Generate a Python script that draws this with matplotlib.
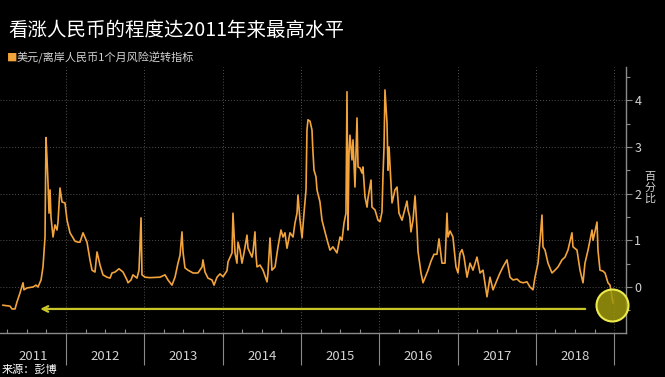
import matplotlib.pyplot as plt
import matplotlib.ticker as mticker

plt.rcParams['font.family'] = ['Noto Sans CJK SC', 'DejaVu Sans']

title = '看涨人民币的程度达2011年来最高水平'
series_name = '美元/离岸人民币1个月风险逆转指标'
source = '来源：彭博'
unit = '百分比'

# decimal year, risk reversal in percent
dates = [
    2011.195, 2011.285, 2011.310, 2011.349, 2011.374, 2011.412, 2011.451, 2011.463,
    2011.502, 2011.578, 2011.617, 2011.642, 2011.681, 2011.706, 2011.732, 2011.744,
    2011.757, 2011.770, 2011.783, 2011.796, 2011.808, 2011.834, 2011.859, 2011.885,
    2011.898, 2011.923, 2011.949, 2011.987, 2012.013, 2012.051, 2012.115, 2012.153,
    2012.179, 2012.217, 2012.268, 2012.306, 2012.332, 2012.370, 2012.396, 2012.434,
    2012.472, 2012.523, 2012.562, 2012.587, 2012.626, 2012.677, 2012.728, 2012.779,
    2012.792, 2012.830, 2012.855, 2012.906, 2012.932, 2012.958, 2012.970, 2013.009,
    2013.073, 2013.200, 2013.264, 2013.302, 2013.353, 2013.392, 2013.430, 2013.456,
    2013.481, 2013.494, 2013.519, 2013.558, 2013.622, 2013.685, 2013.737, 2013.749,
    2013.775, 2013.813, 2013.864, 2013.890, 2013.928, 2013.966, 2014.005, 2014.056,
    2014.069, 2014.120, 2014.132, 2014.158, 2014.183, 2014.196, 2014.222, 2014.247,
    2014.273, 2014.311, 2014.324, 2014.375, 2014.388, 2014.413, 2014.426, 2014.439,
    2014.477, 2014.516, 2014.567, 2014.579, 2014.605, 2014.630, 2014.669, 2014.707,
    2014.745, 2014.771, 2014.796, 2014.822, 2014.860, 2014.899, 2014.924, 2014.950,
    2014.962, 2014.988, 2015.014, 2015.039, 2015.065, 2015.077, 2015.090, 2015.116,
    2015.141, 2015.150, 2015.167, 2015.192, 2015.205, 2015.243, 2015.269, 2015.307,
    2015.345, 2015.371, 2015.409, 2015.460, 2015.499, 2015.524, 2015.550, 2015.575,
    2015.588, 2015.601, 2015.614, 2015.626, 2015.652, 2015.665, 2015.690, 2015.716,
    2015.729, 2015.754, 2015.780, 2015.792, 2015.818, 2015.844, 2015.856, 2015.895,
    2015.907, 2015.946, 2015.984, 2016.010, 2016.035, 2016.048, 2016.061, 2016.073,
    2016.099, 2016.112, 2016.125, 2016.150, 2016.163, 2016.201, 2016.227, 2016.252,
    2016.291, 2016.354, 2016.367, 2016.390, 2016.405, 2016.431, 2016.457, 2016.482,
    2016.495, 2016.533, 2016.559, 2016.597, 2016.623, 2016.660, 2016.699, 2016.737,
    2016.763, 2016.801, 2016.840, 2016.865, 2016.878, 2016.904, 2016.941, 2016.980,
    2017.006, 2017.031, 2017.057, 2017.082, 2017.121, 2017.159, 2017.197, 2017.248,
    2017.287, 2017.325, 2017.376, 2017.414, 2017.453, 2017.504, 2017.542, 2017.580,
    2017.631, 2017.670, 2017.708, 2017.759, 2017.797, 2017.836, 2017.887, 2017.925,
    2017.963, 2017.989, 2018.027, 2018.053, 2018.078, 2018.091, 2018.117, 2018.155,
    2018.206, 2018.244, 2018.283, 2018.334, 2018.372, 2018.410, 2018.461, 2018.474,
    2018.525, 2018.564, 2018.602, 2018.627, 2018.666, 2018.717, 2018.730, 2018.781,
    2018.793, 2018.819, 2018.857, 2018.883, 2018.921, 2018.947, 2018.985,
]
values = [
    -0.39, -0.41, -0.47, -0.47, -0.32, -0.13, 0.09, -0.06,
    -0.02, 0.00, 0.04, 0.00, 0.15, 0.43, 1.07, 3.20,
    2.76, 2.22, 1.58, 2.08, 1.50, 1.07, 1.33, 1.22,
    1.40, 2.12, 1.82, 1.80, 1.43, 1.16, 0.98, 0.96,
    0.96, 1.16, 0.96, 0.58, 0.36, 0.32, 0.75, 0.47,
    0.26, 0.21, 0.19, 0.30, 0.32, 0.39, 0.32, 0.15,
    0.09, 0.15, 0.26, 0.19, 0.36, 1.48, 0.26, 0.21,
    0.20, 0.21, 0.26, 0.15, 0.04, 0.21, 0.51, 0.68,
    1.18, 0.75, 0.41, 0.36, 0.30, 0.30, 0.43, 0.58,
    0.32, 0.19, 0.15, 0.04, 0.21, 0.28, 0.22, 0.35,
    0.54, 0.73, 1.58, 0.73, 0.51, 0.96, 0.79, 0.51,
    0.73, 1.11, 0.83, 0.64, 0.75, 1.18, 0.68, 0.43,
    0.47, 0.36, 0.11, 0.30, 1.05, 0.36, 0.43, 0.86,
    1.22, 1.07, 1.16, 0.83, 1.16, 1.07, 1.37, 1.58,
    1.97, 1.43, 1.05, 1.58, 2.08, 3.36, 3.58, 3.55,
    3.36, 3.00, 2.50, 2.36, 2.08, 1.82, 1.43, 1.18,
    0.94, 0.79, 0.86, 0.73, 1.07, 1.00, 1.37, 1.58,
    4.18, 1.22, 2.87, 3.25, 2.72, 3.15, 2.14, 3.62,
    2.57, 2.55, 2.44, 2.57, 1.93, 1.71, 1.90, 2.29,
    1.71, 1.65, 1.43, 1.40, 1.61, 2.40, 3.00, 4.22,
    3.51, 2.50, 3.00, 2.22, 1.80, 2.08, 2.14, 1.58,
    1.43, 1.84, 1.65, 1.50, 1.18, 1.43, 1.95, 1.25,
    0.76, 0.30, 0.09, 0.25, 0.36, 0.55, 0.70, 0.70,
    1.03, 0.51, 0.51, 1.58, 1.07, 1.20, 1.07, 0.43,
    0.30, 0.72, 0.80, 0.65, 0.21, 0.51, 0.36, 0.64,
    0.30, 0.36, -0.21, 0.21, -0.06, 0.15, 0.30, 0.43,
    0.58, 0.21, 0.15, 0.17, 0.11, 0.09, 0.11, 0.00,
    -0.06, 0.21, 0.51, 1.00, 1.54, 0.86, 0.79, 0.51,
    0.30, 0.36, 0.43, 0.58, 0.64, 0.79, 1.16, 0.86,
    0.79, 0.36, 0.09, 0.51, 0.79, 1.22, 1.00, 1.39,
    0.79, 0.36, 0.34, 0.30, 0.09, 0.04, -0.34,
]

years = [2011, 2012, 2013, 2014, 2015, 2016, 2017, 2018]
y_ticks = [0, 1, 2, 3, 4]
x_range = (2011.157, 2019.151)
y_range = (-0.985, 4.71)

# annotation: arrow back to 2011 level and circle at latest reading
arrow_from = 2018.63
arrow_to = 2011.67
arrow_level = -0.47
marker_date = 2018.97
marker_value = -0.385

line_color = '#f2a33c'
grid_color = '#505050'
axis_color = '#8a8a8a'
text_color = '#d2d2d2'

fig = plt.figure(figsize=(6.65, 3.77), dpi=100, facecolor='black')
ax = fig.add_axes([0, 44 / 377, 626 / 665, 266 / 377])
ax.set_facecolor('black')

ax.plot(dates, values, color=line_color, lw=1.2, zorder=3)

ax.set_xlim(*x_range)
ax.set_ylim(*y_range)

for side in ['top', 'left']:
    ax.spines[side].set_visible(False)
for side in ['bottom', 'right']:
    ax.spines[side].set_color(axis_color)
    ax.spines[side].set_linewidth(1.0)

# y axis on the right
ax.yaxis.tick_right()
ax.set_yticks(y_ticks)
ax.yaxis.set_minor_locator(mticker.MultipleLocator(0.5))
ax.tick_params(axis='y', which='major', direction='out', length=4, width=0.8,
               color=axis_color, labelcolor=text_color, labelsize=9, pad=2)
ax.tick_params(axis='y', which='minor', direction='out', length=3, width=0.8,
               color=axis_color)

# x axis: year boundaries as long separators, quarters as small ticks
boundaries = [y + 1 for y in years]
ax.set_xticks(boundaries)
ax.xaxis.set_minor_locator(mticker.MultipleLocator(0.25))
ax.tick_params(axis='x', which='major', direction='out', length=23, width=0.8,
               color=axis_color, labelbottom=False)
ax.tick_params(axis='x', which='minor', direction='in', length=3, width=0.8,
               color=axis_color)

ax.grid(True, which='major', color=grid_color, ls=(0, (1, 2)), lw=0.7)

# year labels centred on the visible part of each year
label_pos = [(max(y, x_range[0]) + min(y + 1, x_range[1])) / 2 for y in years]
secax = ax.secondary_xaxis('bottom')
secax.set_xticks(label_pos, labels=[str(y) for y in years])
secax.tick_params(length=0, pad=12, labelsize=9.5, labelcolor=text_color)
secax.spines['bottom'].set_visible(False)

ax.annotate('', xy=(arrow_to, arrow_level), xytext=(arrow_from, arrow_level),
            arrowprops=dict(arrowstyle='->', color='#c9c62a', lw=1.6,
                            mutation_scale=10, shrinkA=0, shrinkB=0),
            zorder=2)
ax.scatter([marker_date], [marker_value], s=530,
           facecolor=(0.62, 0.60, 0.05, 0.85), edgecolor='#ecea4c', lw=1.5,
           zorder=4, clip_on=False)

fig.text(8 / 665, 1 - 30 / 377, title, color='white', fontsize=14,
         ha='left', va='center')
fig.text(7 / 665, 1 - 58 / 377, '■', color=line_color, fontsize=7.5,
         ha='left', va='center')
fig.text(17 / 665, 1 - 58 / 377, series_name, color=text_color, fontsize=8,
         ha='left', va='center')
fig.text(650 / 665, 1 - 188 / 377, '\n'.join(unit), color=text_color,
         fontsize=8, ha='center', va='center', linespacing=1.05)
fig.text(2 / 665, 1 - 369 / 377, source, color='white', fontsize=8,
         ha='left', va='center')

fig.savefig('out.png', dpi=100, facecolor='black')
